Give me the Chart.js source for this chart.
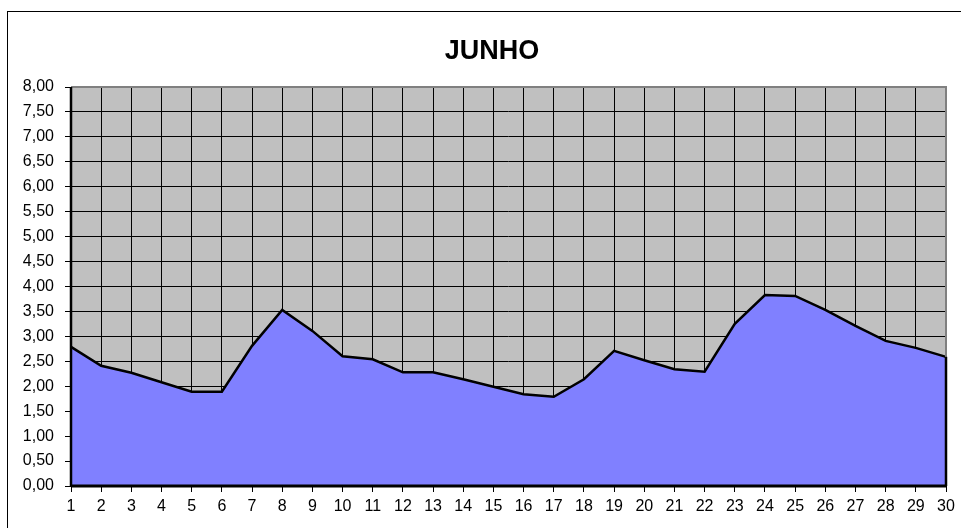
<!DOCTYPE html>
<html>
<head>
<meta charset="utf-8">
<script src="https://cdn.jsdelivr.net/npm/chart.js@4"></script>
<style>
  html, body { margin: 0; padding: 0; background: #fff; }
  #wrap { position: relative; width: 961px; height: 528px; }
</style>
</head>
<body>
<div id="wrap"><canvas id="chart" width="961" height="528"></canvas></div>
<script>
// days of the month and the daily values
const days = ['1','2','3','4','5','6','7','8','9','10','11','12','13','14','15',
  '16','17','18','19','20','21','22','23','24','25','26','27','28','29','30'];
const values = [2.79, 2.41, 2.27, 2.08, 1.89, 1.89, 2.81, 3.53, 3.11, 2.60,
  2.54, 2.28, 2.28, 2.14, 1.99, 1.84, 1.79, 2.14, 2.71, 2.52,
  2.34, 2.29, 3.25, 3.83, 3.81, 3.53, 3.21, 2.91, 2.77, 2.59];
const yMin = 0, yMax = 8, yStep = 0.5;
const chartTitle = 'JUNHO';

const font = '"Liberation Sans", Arial, sans-serif';

const excelLook = {
  id: 'excelLook',
  beforeDraw(chart) {
    const { ctx, chartArea: a } = chart;
    ctx.save();
    ctx.fillStyle = '#C0C0C0';
    ctx.fillRect(a.left, a.top, a.right - a.left, a.bottom - a.top);
    // outer chart frame
    ctx.strokeStyle = '#000';
    ctx.lineWidth = 1;
    ctx.strokeRect(7.5, 11.5, 970, 600);
    // title, centred on the frame like the original
    ctx.fillStyle = '#000';
    ctx.font = 'bold 27px ' + font;
    ctx.textAlign = 'center';
    ctx.textBaseline = 'middle';
    ctx.fillText(chartTitle, 492, 52);
    ctx.restore();
  },
  afterDatasetsDraw(chart) {
    const { ctx, chartArea: a } = chart;
    const pts = chart.getDatasetMeta(0).data;
    ctx.save();
    // plot frame top and right
    ctx.strokeStyle = '#808080';
    ctx.lineWidth = 2;
    ctx.beginPath();
    ctx.moveTo(a.left, a.top);
    ctx.lineTo(a.right, a.top);
    ctx.lineTo(a.right, a.bottom);
    ctx.stroke();
    // area edges and axes
    ctx.strokeStyle = '#000';
    ctx.lineWidth = 2.5;
    ctx.beginPath();
    ctx.moveTo(pts[pts.length - 1].x, pts[pts.length - 1].y);
    ctx.lineTo(pts[pts.length - 1].x, a.bottom);
    ctx.stroke();
    ctx.beginPath();
    ctx.moveTo(a.left, a.top);
    ctx.lineTo(a.left, a.bottom);
    ctx.stroke();
    ctx.lineWidth = 3;
    ctx.beginPath();
    ctx.moveTo(a.left, a.bottom);
    ctx.lineTo(a.right + 1, a.bottom);
    ctx.stroke();
    ctx.restore();
  }
};

new Chart(document.getElementById('chart'), {
  type: 'line',
  data: {
    labels: days,
    datasets: [{
      data: values,
      fill: 'origin',
      backgroundColor: '#8080FF',
      borderColor: '#000',
      borderWidth: 2.5,
      tension: 0,
      pointRadius: 0
    }]
  },
  plugins: [excelLook],
  options: {
    responsive: false,
    animation: false,
    layout: { padding: { left: 0, right: 15, top: 87, bottom: 0 } },
    plugins: {
      legend: { display: false },
      tooltip: { enabled: false },
      title: { display: false }
    },
    scales: {
      x: {
        offset: false,
        grid: { color: '#000', lineWidth: 1, offset: false, tickLength: 6, tickColor: '#000' },
        border: { display: false },
        ticks: { color: '#000', font: { family: font, size: 16 }, padding: 5, maxRotation: 0, autoSkip: false },
        afterFit: s => { s.height = 42; }
      },
      y: {
        min: yMin,
        max: yMax,
        grid: { color: '#000', lineWidth: 1, tickLength: 6, tickColor: '#000' },
        border: { display: false },
        ticks: {
          stepSize: yStep,
          color: '#000',
          padding: 11,
          font: { family: font, size: 16 },
          callback: v => v.toFixed(2).replace('.', ',')
        },
        afterFit: s => { s.width = 71; }
      }
    }
  }
});
</script>
</body>
</html>
